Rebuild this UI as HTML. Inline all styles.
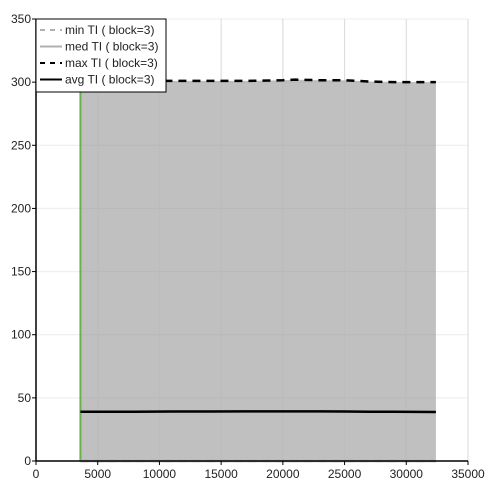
<!DOCTYPE html>
<html><head><meta charset="utf-8"><style>
body{margin:0;background:#fff;width:488px;height:489px;overflow:hidden}
svg{font-family:"Liberation Sans",sans-serif}
</style></head><body>
<svg id="chart" width="488" height="489" xmlns="http://www.w3.org/2000/svg"></svg>
<script>
const xs=[3600,5000,8000,11000,14000,17000,20000,21000,23000,25000,26000,27000,29000,32400];
const maxV=[301,301,301,301,301,301,301.5,302,301.5,301.5,301,300.5,300,300];
const avgV=[39,39,39,39.2,39.2,39.3,39.3,39.3,39.3,39.2,39.1,39,39,38.8];
const minV=[0,0,0,0,0,0,0,0,0,0,0,0,0,0];
const medV=[0,0,0,0,0,0,0,0,0,0,0,0,0,0];
const xTicks=[0,5000,10000,15000,20000,25000,30000,35000];
const yTicks=[0,50,100,150,200,250,300,350];
const legendLabels=["min TI ( block=3)","med TI ( block=3)","max TI ( block=3)","avg TI ( block=3)"];
const NS="http://www.w3.org/2000/svg",svg=document.getElementById('chart');
const X0=36,X1=468,Y0=461,Y1=19;
const sx=v=>X0+(v-0)/35000*(X1-X0), sy=v=>Y0-(v-0)/350*(Y0-Y1);
function mk(t,a,p){const e=document.createElementNS(NS,t);for(const k in a)e.setAttribute(k,a[k]);(p||svg).appendChild(e);return e;}
xTicks.forEach(t=>{const l=mk('line',{x1:sx(t),x2:sx(t),y1:Y1,y2:Y0,stroke:'#e4e4e4','stroke-width':1});

});
yTicks.forEach(t=>{const l=mk('line',{x1:X0,x2:X1,y1:sy(t),y2:sy(t),stroke:'#ececec','stroke-width':1});

});
let d='M'+xs.map((x,i)=>sx(x)+','+sy(maxV[i])).join('L');
for(let i=xs.length-1;i>=0;i--)d+='L'+sx(xs[i])+','+sy(minV[i]);
const area=mk('path',{d:d+'Z',fill:'rgba(150,150,150,0.6)'});


xTicks.forEach(t=>{const l=mk('line',{x1:sx(t),x2:sx(t),y1:Y1,y2:Y0,stroke:'rgba(200,200,200,0.35)','stroke-width':1});

});
const green=mk('line',{x1:sx(xs[0]),x2:sx(xs[0]),y1:sy(maxV[0]),y2:Y0,stroke:'#6ab04c','stroke-width':2});


function series(vals,stroke,dash,name){const p=mk('polyline',{points:xs.map((x,i)=>sx(x)+','+sy(vals[i])).join(' '),fill:'none',stroke:stroke,'stroke-width':2.5,'stroke-dasharray':dash});

}
series(minV,'#b0b0b0','8 6','min-series');
series(medV,'#b0b0b0','none','med-series');
series(maxV,'#000','8 6','max-series');
series(avgV,'#000','none','avg-series');
const ax=mk('path',{d:`M${X0},${Y1}V${Y0}H${X1}`,stroke:'#000','stroke-width':1.5,fill:'none'});


xTicks.forEach(t=>{mk('line',{x1:sx(t),x2:sx(t),y1:Y0,y2:Y0+4,stroke:'#000'});
const tx=mk('text',{x:sx(t),y:Y0+17,'text-anchor':'middle','font-size':12,fill:'#222'});tx.textContent=t;

});
yTicks.forEach(t=>{mk('line',{x1:X0-4,x2:X0,y1:sy(t),y2:sy(t),stroke:'#000'});
const tx=mk('text',{x:X0-5,y:sy(t)+4,'text-anchor':'end','font-size':12,fill:'#222'});tx.textContent=t;

});
const lg=mk('g',{});


mk('rect',{x:36,y:19,width:130,height:73,fill:'#fff',stroke:'#000','stroke-width':1},lg);
const ls=[['#b0b0b0','5 5'],['#b0b0b0','none'],['#000','5 5'],['#000','none']];
legendLabels.forEach((s,i)=>{const y=30+i*16.5;
mk('line',{x1:40,x2:62,y1:y,y2:y,stroke:ls[i][0],'stroke-width':2,'stroke-dasharray':ls[i][1]},lg);
const t=mk('text',{x:65,y:y+4,'font-size':12,fill:'#222'},lg);t.textContent=s;

});
</script>
</body></html>
